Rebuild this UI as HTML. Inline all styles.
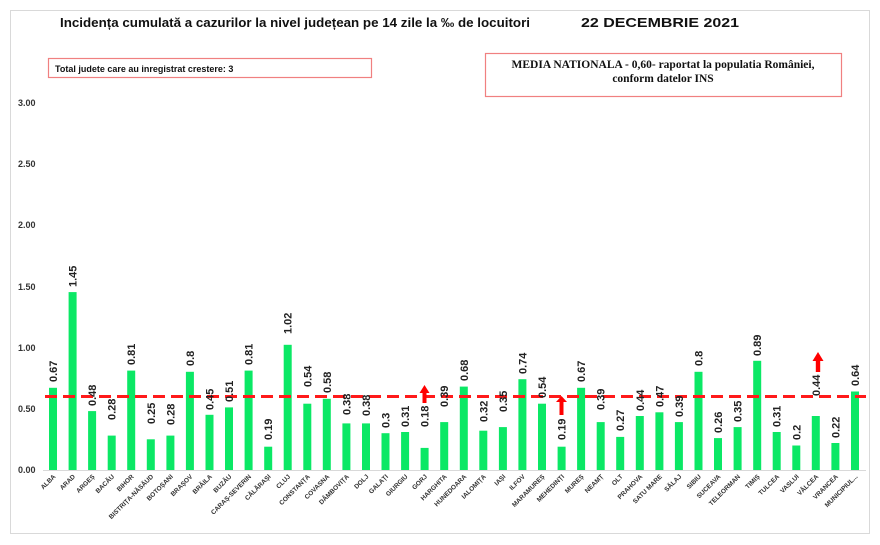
<!DOCTYPE html>
<html><head><meta charset="utf-8"><style>
html,body{margin:0;padding:0;background:#fff;}
svg{display:block;font-family:"Liberation Sans",sans-serif;}
.v{font-size:11px;font-weight:bold;fill:#222;}
.c{font-size:6.5px;font-weight:bold;fill:#333;}
.y{font-size:9px;font-weight:bold;fill:#333;}
rect.b{fill:#0be865;}
</style></head><body>
<svg width="880" height="545" viewBox="0 0 880 545">
<rect x="0" y="0" width="880" height="545" fill="#fff"/>
<rect x="10.5" y="10.5" width="859" height="523" fill="none" stroke="#d9d9d9"/>
<text x="60" y="27" font-size="13" font-weight="bold" fill="#111" textLength="470" lengthAdjust="spacingAndGlyphs">Incidența cumulată a cazurilor la nivel județean pe 14 zile la ‰ de locuitori</text>
<text x="581" y="27" font-size="13" font-weight="bold" fill="#111" textLength="158" lengthAdjust="spacingAndGlyphs">22 DECEMBRIE 2021</text>
<rect x="48.5" y="58.5" width="323" height="19" fill="#fff" stroke="#f08080" stroke-width="1.2"/>
<text x="55" y="72" font-size="9" font-weight="bold" fill="#111">Total judete care au inregistrat crestere: 3</text>
<rect x="485.5" y="53.5" width="356" height="43" fill="#fff" stroke="#f08080" stroke-width="1.2"/>
<text x="663" y="68" font-size="11.5" font-weight="bold" text-anchor="middle" font-family="Liberation Serif,serif" fill="#111">MEDIA NATIONALA - 0,60-  raportat la populatia  României,</text>
<text x="663" y="82" font-size="11.5" font-weight="bold" text-anchor="middle" font-family="Liberation Serif,serif" fill="#111">conform datelor INS</text>
<g class="y">
<text x="18" y="106" class="y">3.00</text>
<text x="18" y="167" class="y">2.50</text>
<text x="18" y="228" class="y">2.00</text>
<text x="18" y="290" class="y">1.50</text>
<text x="18" y="351" class="y">1.00</text>
<text x="18" y="412" class="y">0.50</text>
<text x="18" y="473" class="y">0.00</text>
</g>
<line x1="43" y1="470.5" x2="866" y2="470.5" stroke="#d9d9d9"/>
<rect class="b" x="49" y="387.8" width="8" height="82.2"/>
<rect class="b" x="68.6" y="292.1" width="8" height="177.9"/>
<rect class="b" x="88.1" y="411.1" width="8" height="58.9"/>
<rect class="b" x="107.7" y="435.6" width="8" height="34.4"/>
<rect class="b" x="127.2" y="370.6" width="8" height="99.4"/>
<rect class="b" x="146.8" y="439.3" width="8" height="30.7"/>
<rect class="b" x="166.4" y="435.6" width="8" height="34.4"/>
<rect class="b" x="185.9" y="371.8" width="8" height="98.2"/>
<rect class="b" x="205.5" y="414.8" width="8" height="55.2"/>
<rect class="b" x="225" y="407.4" width="8" height="62.6"/>
<rect class="b" x="244.6" y="370.6" width="8" height="99.4"/>
<rect class="b" x="264.2" y="446.7" width="8" height="23.3"/>
<rect class="b" x="283.7" y="344.8" width="8" height="125.2"/>
<rect class="b" x="303.3" y="403.7" width="8" height="66.3"/>
<rect class="b" x="322.8" y="398.8" width="8" height="71.2"/>
<rect class="b" x="342.4" y="423.4" width="8" height="46.6"/>
<rect class="b" x="362" y="423.4" width="8" height="46.6"/>
<rect class="b" x="381.5" y="433.2" width="8" height="36.8"/>
<rect class="b" x="401.1" y="432" width="8" height="38"/>
<rect class="b" x="420.6" y="447.9" width="8" height="22.1"/>
<rect class="b" x="440.2" y="422.1" width="8" height="47.9"/>
<rect class="b" x="459.8" y="386.6" width="8" height="83.4"/>
<rect class="b" x="479.3" y="430.7" width="8" height="39.3"/>
<rect class="b" x="498.9" y="427.1" width="8" height="42.9"/>
<rect class="b" x="518.4" y="379.2" width="8" height="90.8"/>
<rect class="b" x="538" y="403.7" width="8" height="66.3"/>
<rect class="b" x="557.6" y="446.7" width="8" height="23.3"/>
<rect class="b" x="577.1" y="387.8" width="8" height="82.2"/>
<rect class="b" x="596.7" y="422.1" width="8" height="47.9"/>
<rect class="b" x="616.2" y="436.9" width="8" height="33.1"/>
<rect class="b" x="635.8" y="416" width="8" height="54"/>
<rect class="b" x="655.4" y="412.3" width="8" height="57.7"/>
<rect class="b" x="674.9" y="422.1" width="8" height="47.9"/>
<rect class="b" x="694.5" y="371.8" width="8" height="98.2"/>
<rect class="b" x="714" y="438.1" width="8" height="31.9"/>
<rect class="b" x="733.6" y="427.1" width="8" height="42.9"/>
<rect class="b" x="753.2" y="360.8" width="8" height="109.2"/>
<rect class="b" x="772.7" y="432" width="8" height="38"/>
<rect class="b" x="792.3" y="445.5" width="8" height="24.5"/>
<rect class="b" x="811.8" y="416" width="8" height="54"/>
<rect class="b" x="831.4" y="443" width="8" height="27"/>
<rect class="b" x="851" y="391.5" width="8" height="78.5"/>
<line x1="45" y1="396.5" x2="866" y2="396.5" stroke="#ff1a1a" stroke-width="3" stroke-dasharray="12,6"/>
<g fill="#ff0000">
<polygon points="422.5,403 426.5,403 426.5,393 429.5,393 424.5,385 419.5,393 422.5,393"/>
<polygon points="559.5,415 563.5,415 563.5,402 567,402 561.5,396 556,402 559.5,402"/>
<polygon points="815.8,372 820.2,372 820.2,361 823.5,361 818,352 812.5,361 815.8,361"/>
</g>
<g class="v">
<text class="v" transform="translate(57,382) rotate(-90)">0.67</text>
<text class="v" transform="translate(76.6,287) rotate(-90)">1.45</text>
<text class="v" transform="translate(96.1,406) rotate(-90)">0.48</text>
<text class="v" transform="translate(115.7,420) rotate(-90)">0.28</text>
<text class="v" transform="translate(135.2,365) rotate(-90)">0.81</text>
<text class="v" transform="translate(154.8,424) rotate(-90)">0.25</text>
<text class="v" transform="translate(174.4,425) rotate(-90)">0.28</text>
<text class="v" transform="translate(193.9,366) rotate(-90)">0.8</text>
<text class="v" transform="translate(213.5,410) rotate(-90)">0.45</text>
<text class="v" transform="translate(233,402) rotate(-90)">0.51</text>
<text class="v" transform="translate(252.6,365) rotate(-90)">0.81</text>
<text class="v" transform="translate(272.2,440) rotate(-90)">0.19</text>
<text class="v" transform="translate(291.7,334) rotate(-90)">1.02</text>
<text class="v" transform="translate(311.3,387) rotate(-90)">0.54</text>
<text class="v" transform="translate(330.8,393) rotate(-90)">0.58</text>
<text class="v" transform="translate(350.4,415) rotate(-90)">0.38</text>
<text class="v" transform="translate(370,416) rotate(-90)">0.38</text>
<text class="v" transform="translate(389.5,428) rotate(-90)">0.3</text>
<text class="v" transform="translate(409.1,427) rotate(-90)">0.31</text>
<text class="v" transform="translate(428.6,427) rotate(-90)">0.18</text>
<text class="v" transform="translate(448.2,407) rotate(-90)">0.39</text>
<text class="v" transform="translate(467.8,381) rotate(-90)">0.68</text>
<text class="v" transform="translate(487.3,422) rotate(-90)">0.32</text>
<text class="v" transform="translate(506.9,412) rotate(-90)">0.35</text>
<text class="v" transform="translate(526.4,374) rotate(-90)">0.74</text>
<text class="v" transform="translate(546,398) rotate(-90)">0.54</text>
<text class="v" transform="translate(565.6,440) rotate(-90)">0.19</text>
<text class="v" transform="translate(585.1,382) rotate(-90)">0.67</text>
<text class="v" transform="translate(604.7,410) rotate(-90)">0.39</text>
<text class="v" transform="translate(624.2,431) rotate(-90)">0.27</text>
<text class="v" transform="translate(643.8,411) rotate(-90)">0.44</text>
<text class="v" transform="translate(663.4,407) rotate(-90)">0.47</text>
<text class="v" transform="translate(682.9,417) rotate(-90)">0.39</text>
<text class="v" transform="translate(702.5,366) rotate(-90)">0.8</text>
<text class="v" transform="translate(722,433) rotate(-90)">0.26</text>
<text class="v" transform="translate(741.6,422) rotate(-90)">0.35</text>
<text class="v" transform="translate(761.2,356) rotate(-90)">0.89</text>
<text class="v" transform="translate(780.7,427) rotate(-90)">0.31</text>
<text class="v" transform="translate(800.3,440) rotate(-90)">0.2</text>
<text class="v" transform="translate(819.8,396) rotate(-90)">0.44</text>
<text class="v" transform="translate(839.4,438) rotate(-90)">0.22</text>
<text class="v" transform="translate(859,386) rotate(-90)">0.64</text>
</g>
<g class="c" text-anchor="end">
<text class="c" transform="translate(56,477) rotate(-45)">ALBA</text>
<text class="c" transform="translate(75.6,477) rotate(-45)">ARAD</text>
<text class="c" transform="translate(95.1,477) rotate(-45)">ARGEȘ</text>
<text class="c" transform="translate(114.7,477) rotate(-45)">BACĂU</text>
<text class="c" transform="translate(134.2,477) rotate(-45)">BIHOR</text>
<text class="c" transform="translate(153.8,477) rotate(-45)">BISTRIȚA-NĂSĂUD</text>
<text class="c" transform="translate(173.4,477) rotate(-45)">BOTOȘANI</text>
<text class="c" transform="translate(192.9,477) rotate(-45)">BRAȘOV</text>
<text class="c" transform="translate(212.5,477) rotate(-45)">BRĂILA</text>
<text class="c" transform="translate(232,477) rotate(-45)">BUZĂU</text>
<text class="c" transform="translate(251.6,477) rotate(-45)">CARAȘ-SEVERIN</text>
<text class="c" transform="translate(271.2,477) rotate(-45)">CĂLĂRAȘI</text>
<text class="c" transform="translate(290.7,477) rotate(-45)">CLUJ</text>
<text class="c" transform="translate(310.3,477) rotate(-45)">CONSTANȚA</text>
<text class="c" transform="translate(329.8,477) rotate(-45)">COVASNA</text>
<text class="c" transform="translate(349.4,477) rotate(-45)">DÂMBOVIȚA</text>
<text class="c" transform="translate(369,477) rotate(-45)">DOLJ</text>
<text class="c" transform="translate(388.5,477) rotate(-45)">GALAȚI</text>
<text class="c" transform="translate(408.1,477) rotate(-45)">GIURGIU</text>
<text class="c" transform="translate(427.6,477) rotate(-45)">GORJ</text>
<text class="c" transform="translate(447.2,477) rotate(-45)">HARGHITA</text>
<text class="c" transform="translate(466.8,477) rotate(-45)">HUNEDOARA</text>
<text class="c" transform="translate(486.3,477) rotate(-45)">IALOMIȚA</text>
<text class="c" transform="translate(505.9,477) rotate(-45)">IAȘI</text>
<text class="c" transform="translate(525.4,477) rotate(-45)">ILFOV</text>
<text class="c" transform="translate(545,477) rotate(-45)">MARAMUREȘ</text>
<text class="c" transform="translate(564.6,477) rotate(-45)">MEHEDINȚI</text>
<text class="c" transform="translate(584.1,477) rotate(-45)">MUREȘ</text>
<text class="c" transform="translate(603.7,477) rotate(-45)">NEAMȚ</text>
<text class="c" transform="translate(623.2,477) rotate(-45)">OLT</text>
<text class="c" transform="translate(642.8,477) rotate(-45)">PRAHOVA</text>
<text class="c" transform="translate(662.4,477) rotate(-45)">SATU MARE</text>
<text class="c" transform="translate(681.9,477) rotate(-45)">SĂLAJ</text>
<text class="c" transform="translate(701.5,477) rotate(-45)">SIBIU</text>
<text class="c" transform="translate(721,477) rotate(-45)">SUCEAVA</text>
<text class="c" transform="translate(740.6,477) rotate(-45)">TELEORMAN</text>
<text class="c" transform="translate(760.2,477) rotate(-45)">TIMIȘ</text>
<text class="c" transform="translate(779.7,477) rotate(-45)">TULCEA</text>
<text class="c" transform="translate(799.3,477) rotate(-45)">VASLUI</text>
<text class="c" transform="translate(818.8,477) rotate(-45)">VÂLCEA</text>
<text class="c" transform="translate(838.4,477) rotate(-45)">VRANCEA</text>
<text class="c" transform="translate(858,477) rotate(-45)">MUNICIPIUL...</text>
</g>
</svg>
</body></html>
